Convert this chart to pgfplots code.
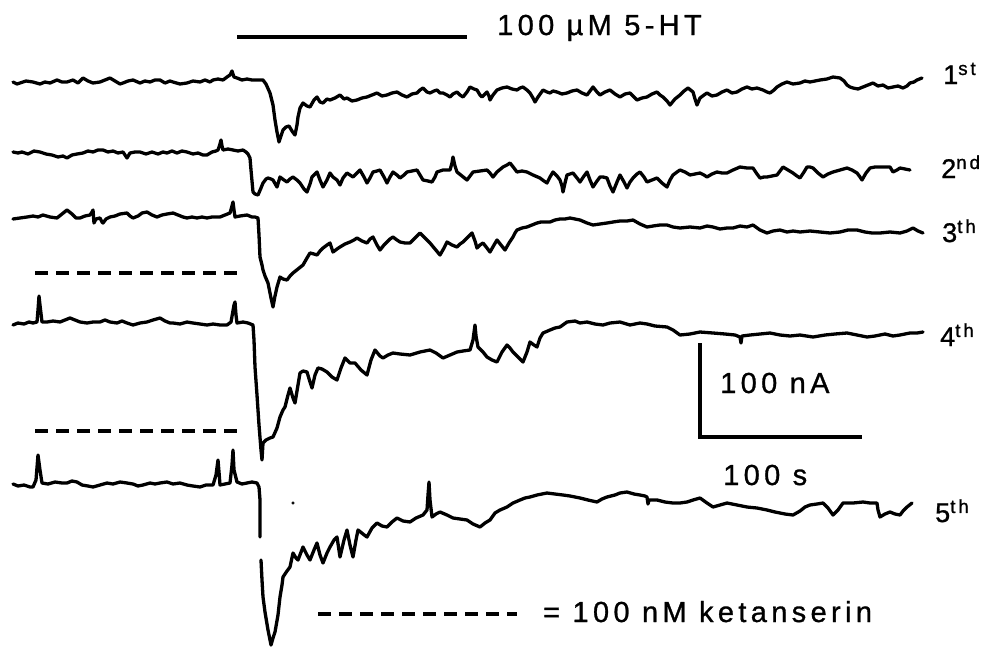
\documentclass[border=0pt]{standalone}
\usepackage{pgfplots}
\pgfplotsset{compat=1.18}
\usepackage{fontspec}
\setmainfont{Liberation Sans}[LetterSpace=15, FakeBold=1]

\pgfplotsset{
  trace/.style={black, line width=3.3pt, line join=round, line cap=round, mark=none},
  bar/.style={black, line width=3.4pt, mark=none},
  ket/.style={black, line width=3.4pt, mark=none, dash pattern=on 13pt off 8pt},
}

\begin{document}
\begin{tikzpicture}[x=1pt,y=1pt]
\path[use as bounding box] (0,0) rectangle (986,649);
\begin{axis}[
  at={(0,0)}, anchor=south west,
  scale only axis, width=986pt, height=649pt,
  xmin=0, xmax=986, ymin=0, ymax=649,
  y dir=reverse, hide axis, clip=false,
]
% 1st application
\addplot[trace] coordinates {(13,82)(17,84)(20,83)(26,81)(33,82)(40,84)(45,82)(50,83)(57,80)(62,82)(67,82)(73,80)(78,83)(83,78)(88,81)(93,83)(100,82)(105,80)(110,78)(115,81)(120,84)(123,83)(128,81)(133,80)(140,83)(145,81)(150,82)(155,80)(160,80)(165,83)(170,81)(173,82)(180,84)(187,83)(193,81)(200,82)(205,80)(210,82)(213,80)(218,79)(223,80)(227,77)(230,75)(232,71)(234,77)(237,78)(242,80)(247,79)(252,80)(258,80)(263,80)(266,84)(270,93)(273,105)(275,120)(277,132)(279,142)(281,136)(283,130)(286,127)(289,126)(292,131)(295,135)(297,125)(298,117)(300,108)(303,103)(307,106)(310,107)(314,100)(317,97)(320,102)(323,103)(327,99)(330,100)(335,98)(340,95)(344,99)(347,98)(352,101)(357,100)(362,98)(367,97)(372,95)(377,93)(382,96)(387,95)(392,93)(397,92)(402,95)(407,97)(412,94)(417,93)(420,90)(423,88)(427,92)(430,93)(434,91)(437,90)(440,93)(443,93)(447,95)(450,97)(453,94)(457,92)(460,95)(463,97)(467,92)(470,87)(474,89)(477,90)(480,95)(482,97)(485,94)(487,92)(489,96)(490,100)(493,95)(497,90)(502,88)(507,87)(512,89)(517,90)(520,88)(523,87)(527,90)(530,93)(533,98)(535,102)(538,97)(543,90)(547,92)(550,93)(553,91)(557,92)(562,94)(567,93)(572,91)(577,90)(582,93)(587,95)(590,91)(593,87)(597,92)(600,95)(605,92)(610,90)(615,94)(620,97)(625,94)(630,93)(634,97)(637,100)(642,98)(647,97)(652,94)(657,92)(660,95)(663,97)(667,101)(670,105)(675,99)(680,95)(684,91)(688,88)(693,92)(695,99)(697,105)(700,98)(704,95)(707,93)(712,96)(717,95)(722,92)(727,90)(732,93)(737,92)(742,89)(747,87)(752,89)(757,88)(763,90)(767,92)(770,93)(774,90)(777,87)(782,84)(787,82)(793,84)(800,83)(805,81)(810,82)(815,81)(820,80)(827,79)(833,77)(840,78)(844,81)(847,85)(850,87)(853,88)(858,89)(863,87)(868,85)(873,83)(878,86)(883,85)(888,88)(893,87)(898,86)(903,88)(907,86)(910,83)(914,82)(917,80)(922,78)};
% 2nd application
\addplot[trace] coordinates {(13,152)(18,153)(22,152)(28,154)(34,151)(40,152)(46,154)(52,155)(58,157)(63,156)(67,158)(72,155)(77,154)(83,153)(88,151)(93,152)(98,150)(103,150)(108,152)(113,151)(118,153)(123,152)(125,155)(127,158)(130,153)(135,152)(140,152)(146,154)(152,152)(158,154)(163,152)(167,153)(172,151)(177,153)(182,151)(187,152)(193,154)(198,153)(203,155)(207,155)(212,152)(216,151)(218,150)(220,144)(221,140)(222,146)(223,150)(228,149)(233,150)(238,151)(243,150)(246,152)(248,154)(250,158)(251,170)(253,192)(255,194)(258,195)(261,188)(263,183)(266,179)(268,178)(271,179)(273,180)(277,187)(280,177)(284,180)(287,182)(290,179)(293,177)(297,180)(300,183)(304,189)(307,192)(310,184)(312,177)(317,172)(320,180)(323,187)(327,180)(330,173)(333,177)(337,180)(340,185)(343,178)(347,173)(350,175)(353,177)(357,173)(360,170)(364,177)(367,183)(370,178)(373,172)(377,171)(380,170)(384,177)(387,183)(390,177)(393,172)(397,175)(400,178)(404,175)(407,172)(412,171)(417,170)(420,175)(423,180)(428,181)(432,182)(435,177)(437,172)(440,171)(443,170)(447,170)(450,170)(452,163)(453,157)(455,166)(457,172)(462,176)(467,180)(470,176)(473,172)(480,171)(487,170)(490,173)(493,177)(497,172)(503,167)(507,165)(510,163)(514,168)(517,172)(522,171)(527,172)(533,175)(540,178)(544,181)(547,183)(550,177)(553,172)(557,176)(560,180)(562,186)(563,192)(565,183)(567,175)(570,174)(573,173)(577,178)(580,182)(584,176)(587,172)(590,180)(593,187)(597,181)(600,177)(603,177)(607,178)(610,186)(613,192)(617,182)(620,175)(624,182)(627,188)(630,182)(633,178)(637,174)(640,172)(644,177)(647,182)(652,180)(657,178)(662,183)(667,187)(670,180)(673,175)(677,172)(680,170)(685,172)(690,175)(695,174)(700,173)(704,175)(707,177)(712,174)(717,172)(722,173)(727,173)(733,170)(740,167)(747,168)(753,168)(757,174)(760,178)(764,177)(767,177)(772,176)(777,175)(780,171)(783,167)(788,170)(793,173)(797,176)(800,178)(804,172)(807,167)(810,167)(813,168)(818,173)(823,177)(828,174)(833,172)(840,170)(847,168)(852,170)(857,173)(860,177)(862,180)(866,173)(870,168)(875,167)(880,167)(885,167)(890,167)(893,172)(897,170)(900,168)(905,169)(910,170)};
% 3rd application
\addplot[trace] coordinates {(13,219)(20,218)(27,217)(33,216)(38,217)(43,215)(50,217)(57,218)(62,214)(67,210)(72,214)(76,218)(80,218)(85,216)(90,215)(92,212)(93,210)(94,223)(96,219)(100,218)(102,222)(103,223)(106,219)(110,217)(115,216)(120,214)(127,213)(130,216)(133,218)(138,216)(142,213)(147,212)(152,215)(157,217)(162,215)(167,214)(173,213)(178,215)(183,217)(187,218)(192,217)(197,218)(202,217)(207,218)(212,217)(216,217)(220,217)(225,215)(230,213)(232,206)(233,202)(234,210)(235,217)(240,216)(247,215)(252,217)(255,217)(258,218)(259,235)(260,257)(262,265)(263,270)(265,276)(268,283)(271,298)(273,307)(275,296)(277,287)(280,277)(283,279)(287,280)(290,276)(293,273)(298,269)(303,265)(307,258)(310,253)(314,254)(317,255)(320,251)(323,248)(327,245)(330,243)(333,252)(337,249)(340,247)(345,244)(350,242)(354,240)(357,238)(362,241)(367,243)(370,239)(373,237)(377,245)(380,250)(384,245)(387,242)(390,239)(393,237)(397,240)(400,242)(405,243)(410,243)(415,238)(420,233)(425,238)(430,243)(435,249)(440,255)(444,248)(447,242)(452,245)(457,247)(460,244)(463,242)(468,237)(472,233)(475,241)(477,248)(480,245)(483,243)(487,248)(490,252)(494,245)(497,240)(501,245)(505,250)(509,243)(513,237)(515,233)(517,230)(522,228)(527,227)(532,225)(537,223)(541,222)(545,222)(550,222)(555,220)(560,219)(565,219)(570,218)(575,219)(580,220)(587,223)(593,225)(600,224)(607,223)(613,222)(620,221)(627,221)(633,220)(640,224)(647,227)(653,226)(660,225)(667,225)(673,227)(680,228)(690,227)(700,228)(707,226)(713,227)(720,229)(727,228)(733,228)(740,226)(747,227)(753,225)(760,230)(767,233)(773,231)(780,230)(787,232)(793,231)(800,232)(810,231)(820,232)(830,233)(840,232)(848,230)(857,230)(865,232)(872,233)(880,233)(890,232)(900,233)(907,231)(913,228)(918,231)(923,233)};
% 4th application
\addplot[trace] coordinates {(13,325)(18,323)(24,324)(29,322)(33,323)(37,322)(38,310)(39,296)(40,305)(42,322)(47,322)(53,321)(60,322)(65,320)(70,318)(75,320)(80,322)(87,323)(93,322)(100,322)(105,320)(110,322)(117,323)(122,321)(127,323)(133,325)(140,323)(147,322)(153,320)(160,318)(165,321)(170,323)(173,323)(180,324)(187,322)(193,323)(200,324)(207,325)(213,324)(220,325)(227,325)(231,322)(234,305)(235,302)(236,315)(237,323)(243,322)(248,323)(253,325)(254,340)(255,367)(257,395)(259,425)(261,450)(262,460)(263,443)(266,440)(270,438)(273,437)(277,428)(280,417)(283,410)(285,407)(288,395)(290,388)(293,398)(295,403)(298,385)(300,373)(303,371)(307,372)(310,382)(312,388)(315,375)(318,368)(322,369)(327,372)(332,377)(337,380)(341,368)(345,358)(350,363)(355,363)(361,370)(367,375)(371,360)(375,350)(380,356)(383,358)(388,355)(393,353)(400,354)(410,355)(420,352)(430,350)(436,353)(443,358)(450,355)(457,352)(463,351)(470,350)(473,340)(475,325)(476,336)(478,347)(483,352)(487,357)(492,360)(497,362)(502,352)(507,345)(510,348)(513,352)(518,357)(523,362)(527,352)(530,342)(534,345)(537,347)(540,338)(543,333)(550,330)(555,328)(560,327)(567,322)(575,321)(580,323)(587,322)(595,324)(603,325)(610,323)(620,322)(630,325)(640,323)(647,324)(655,326)(667,327)(673,330)(680,335)(690,334)(700,332)(713,333)(725,334)(735,335)(740,337)(741,343)(742,336)(750,335)(760,334)(770,333)(780,335)(790,336)(800,335)(813,337)(825,335)(835,334)(847,333)(857,335)(867,337)(875,336)(885,334)(893,336)(900,335)(910,333)(917,333)(923,332)};
% 5th application (trace breaks during the fast drop)
\addplot[trace] coordinates {(13,484)(18,486)(24,485)(30,487)(33,487)(36,480)(38,455)(40,470)(42,483)(48,484)(55,482)(62,483)(67,483)(72,481)(77,482)(82,485)(88,486)(93,487)(100,485)(107,483)(113,484)(120,482)(127,483)(133,484)(138,486)(143,485)(150,483)(155,484)(160,483)(167,482)(173,484)(180,483)(187,485)(193,486)(200,487)(206,485)(213,485)(216,475)(218,460)(219,472)(220,485)(225,484)(230,483)(232,465)(233,450)(234,470)(237,482)(242,484)(247,483)(252,482)(257,483)(259,487)(260,500)(260,537)};
\addplot[trace] coordinates {(261,560)(262,580)(263,597)(265,612)(268,630)(270,640)(271,645)(273,638)(275,632)(278,615)(280,597)(282,585)(283,577)(287,571)(290,567)(293,553)(296,558)(298,560)(303,547)(307,555)(310,560)(314,550)(317,543)(320,555)(323,563)(327,553)(330,547)(334,540)(337,537)(340,557)(344,540)(347,530)(350,545)(353,557)(356,540)(358,530)(363,534)(367,537)(372,528)(377,523)(382,526)(387,527)(392,522)(397,518)(403,521)(410,522)(416,518)(423,515)(427,510)(428,495)(429,482)(430,500)(432,517)(436,514)(440,512)(447,515)(453,518)(460,519)(467,520)(473,524)(480,527)(485,523)(490,520)(495,513)(500,510)(507,507)(513,503)(520,500)(525,498)(530,497)(537,495)(547,493)(555,494)(563,495)(570,496)(580,498)(588,500)(597,502)(602,499)(607,497)(615,495)(620,493)(627,492)(634,494)(640,495)(645,496)(647,497)(648,504)(649,500)(657,500)(665,502)(673,503)(680,503)(687,502)(693,500)(700,498)(707,503)(713,507)(720,505)(727,503)(737,505)(747,507)(757,508)(767,510)(775,512)(785,514)(793,515)(800,511)(805,507)(810,505)(817,504)(823,503)(828,508)(833,515)(838,510)(843,503)(853,503)(863,502)(870,503)(877,503)(878,510)(880,517)(885,514)(890,512)(895,514)(900,515)(903,511)(907,507)(912,503)};
\addplot[only marks, mark=*, mark size=1.3pt, black] coordinates {(293,503)};

% 5-HT application bar
\addplot[bar] coordinates {(237,37)(467,37)};
% ketanserin periods
\addplot[ket] coordinates {(35,273)(237,273)};
\addplot[ket] coordinates {(35,431)(237,431)};
\addplot[ket] coordinates {(318,614)(517,614)};
% scale bar
\addplot[black, line width=3.6pt, line join=miter, mark=none] coordinates {(700,343)(700,437)(862,437)};

\begin{scope}[every node/.style={inner sep=0pt, anchor=base west, font=\fontsize{29}{32}\selectfont}]
\node at (axis cs:497,35) {100 µM 5-HT};
\node at (axis cs:720,393) {100 nA};
\node at (axis cs:723,485) {100 s};
\node at (axis cs:543,622) {= 100 nM ketanserin};
\end{scope}
\begin{scope}[every node/.style={inner sep=0pt, anchor=base west, font=\fontsize{27}{30}\selectfont}]
\node at (axis cs:943,84) {1\textsuperscript{st}};
\node at (axis cs:941,178) {2\textsuperscript{nd}};
\node at (axis cs:942,242) {3\textsuperscript{th}};
\node at (axis cs:940,346) {4\textsuperscript{th}};
\node at (axis cs:935,522) {5\textsuperscript{th}};
\end{scope}
\end{axis}
\end{tikzpicture}
\end{document}
